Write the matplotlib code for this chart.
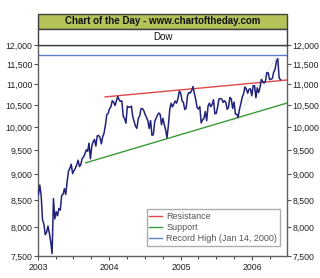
import matplotlib
matplotlib.use('Agg')
import matplotlib.pyplot as plt
import matplotlib.dates as mdates
import matplotlib.ticker as mticker
from matplotlib.patches import Rectangle
import pandas as pd

plt.rcParams['font.family'] = ['Liberation Sans', 'DejaVu Sans']

# Weekly Dow closes (Fridays)
dow_2003 = [8601, 8785, 8586, 8131, 8054,
            7864, 7909, 8018, 7891,
            7740, 7540, 8522, 8145,
            8277, 8203, 8338, 8307,
            8583, 8604, 8713, 8601, 8850,
            9062, 9117, 9201, 9011,
            9070, 9119, 9188, 9284,
            9153, 9191, 9321, 9348, 9416,
            9503, 9471, 9644, 9313,
            9572, 9674, 9721, 9582, 9801,
            9810, 9768, 9629, 9782,
            9862, 10042, 10278, 10305]
dow_2004 = [10410, 10458, 10600, 10568, 10488,
            10593, 10700, 10620, 10584,
            10596, 10241, 10186, 10080,
            10470, 10443, 10452, 10472, 10226,
            10117, 10012, 9967, 10188,
            10243, 10410, 10416, 10372,
            10282, 10214, 10140, 9963, 10140,
            9815, 9825, 10111, 10195,
            10260, 10314, 10284, 10047,
            10193, 10055, 9933, 9758, 10027,
            10387, 10540, 10456, 10522,
            10592, 10543, 10650, 10828, 10783]
dow_2005 = [10603, 10558, 10393, 10427,
            10716, 10796, 10785, 10841,
            10940, 10774, 10629, 10442,
            10404, 10461, 10088, 10157, 10192,
            10346, 10140, 10471, 10542,
            10460, 10512, 10623, 10297,
            10303, 10449, 10641, 10651, 10641,
            10559, 10600, 10559, 10397,
            10447, 10679, 10641, 10419, 10569,
            10292, 10287, 10215, 10403,
            10530, 10686, 10766, 10931,
            10877, 10778, 10876, 10883, 10718]
dow_2006 = [10959, 10960, 10668, 10907,
            10794, 10919, 11115, 11062,
            11022, 11077, 11280, 11280, 11109,
            11121, 11138, 11296, 11367,
            11578, 11640, 11144, 11110]
year_starts = ['2003-01-03', '2004-01-02', '2005-01-07', '2006-01-06']

resist_dates = ['2003-12-10', '2006-06-28']
resist_values = [10690, 11100]
support_dates = ['2003-09-02', '2006-06-28']
support_values = [9230, 10545]
record_high = 11723
trend_dates = ['2005-09-08', '2006-05-06']
trend_values = [9990, 11690]

yticks = [7500, 8000, 8500, 9000, 9500, 10000, 10500, 11000, 11500, 12000]
year_labels = ['2003', '2004', '2005', '2006']
x_start, x_end = '2003-01-01', '2006-06-28'

title_text = 'Chart of the Day - www.chartoftheday.com'
subtitle_text = 'Dow'
legend_labels = ['Resistance', 'Support', 'Record High (Jan 14, 2000)']

dates, values = [], []
for start, vals in zip(year_starts, [dow_2003, dow_2004, dow_2005, dow_2006]):
    dates.extend(pd.date_range(start, periods=len(vals), freq='7D'))
    values.extend(vals)

fig = plt.figure(figsize=(3.2, 2.78), dpi=100)
L, B, W, H = 0.1188, 0.0791, 0.778, 0.759
ax = fig.add_axes([L, B, W, H])

ax.plot(dates, values, color='#22227a', lw=1.1, zorder=3)
h_rec, = ax.plot(pd.to_datetime([x_start, x_end]), [record_high, record_high],
                 color='#5a80d0', lw=1.0, zorder=2)
h_res, = ax.plot(pd.to_datetime(resist_dates), resist_values, color='#e04848', lw=1.0, zorder=2)
h_sup, = ax.plot(pd.to_datetime(support_dates), support_values, color='#3a9a3a', lw=1.0, zorder=2)
ax.plot(pd.to_datetime(trend_dates), trend_values, color='#c8c8c8', lw=0.8, ls=':', zorder=1)

ax.set_yscale('log')
ax.set_ylim(7500, 12000)
ax.set_yticks(yticks)
ax.yaxis.set_major_formatter(mticker.FuncFormatter(lambda v, p: f'{v:,.0f}'))
ax.yaxis.set_minor_locator(mticker.NullLocator())

ax.set_xlim(pd.Timestamp(x_start), pd.Timestamp(x_end))
ax.set_xticks(pd.to_datetime([f'{y}-01-01' for y in year_labels]))
ax.set_xticklabels(year_labels)
ax.xaxis.set_minor_locator(mdates.MonthLocator(bymonth=[4, 7, 10]))

ax.tick_params(axis='both', which='both', direction='out', length=3, width=0.8,
               colors='#555555', labelcolor='#222222', labelsize=6.3, pad=1)
ax.tick_params(axis='y', right=True, labelright=True)
ax.tick_params(axis='x', which='both', pad=2)
ax.tick_params(axis='x', which='minor', length=2)

for s in ax.spines.values():
    s.set_color('#606060')
    s.set_linewidth(1.0)
ax.spines['top'].set_color('#404040')

leg = ax.legend([h_res, h_sup, h_rec], legend_labels, loc='lower right',
                bbox_to_anchor=(0.972, 0.047), fontsize=6.5, frameon=True,
                fancybox=False, handlelength=1.4, handletextpad=0.5,
                borderpad=0.3, labelspacing=0.25, borderaxespad=0)
leg.get_frame().set_edgecolor('#999999')
leg.get_frame().set_linewidth(1.0)
for t in leg.get_texts():
    t.set_color('#555555')

# Header boxes
g_bot, g_top = 1 - 29 / 278, 1 - 14 / 278
w_bot = B + H
fig.patches.append(Rectangle((L, g_bot), W, g_top - g_bot, transform=fig.transFigure,
                             facecolor='#b5c25a', edgecolor='#404040', lw=1.0))
fig.patches.append(Rectangle((L, w_bot), W, g_bot - w_bot, transform=fig.transFigure,
                             facecolor='white', edgecolor='#404040', lw=1.0))
fig.text(L + W / 2, (g_bot + g_top) / 2, title_text, ha='center', va='center',
         fontsize=7, fontweight='bold', color='#111111')
fig.text(L + W / 2, (w_bot + g_bot) / 2, subtitle_text, ha='center', va='center',
         fontsize=7, color='#111111')

fig.savefig('out.png', dpi=100)
